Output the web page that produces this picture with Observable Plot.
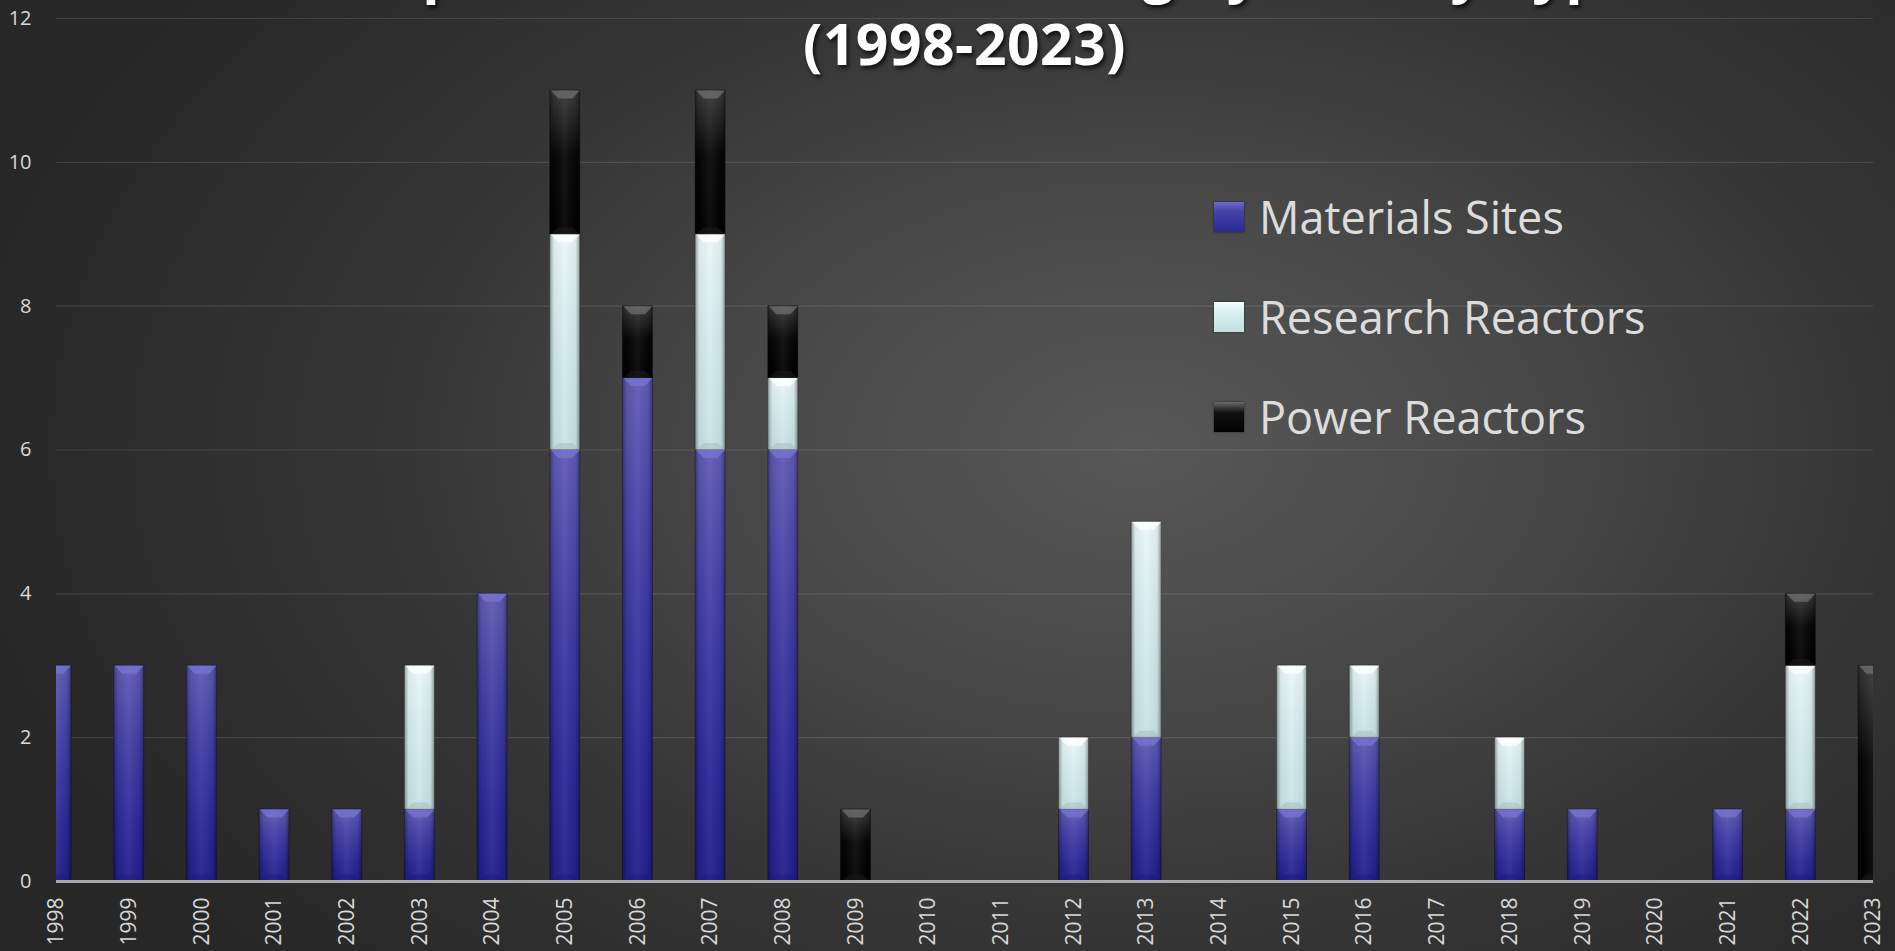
<!DOCTYPE html>
<html><head><meta charset="utf-8">
<script src="https://cdn.jsdelivr.net/npm/d3@7"></script>
<script src="https://cdn.jsdelivr.net/npm/@observablehq/plot@0.6"></script>
<style>
html,body{margin:0;padding:0;width:1895px;height:951px;overflow:hidden;background:#2a2a2a;}
#wrap{position:relative;width:1895px;height:951px;overflow:hidden;
  background: radial-gradient(ellipse 62% 80% at 60% 47%, #575757 0%, #4a4a4a 30%, #363636 62%, #272727 100%);}
#wrap svg{position:absolute;left:0;top:0;}
.tl{position:absolute;left:56px;width:1817px;text-align:center;font:700 57px/64px "Open Sans",sans-serif;letter-spacing:0.5px;color:#fff;text-shadow:2px 3px 4px rgba(0,0,0,.75);white-space:nowrap;}
.lrow{position:absolute;left:1214px;height:60px;display:flex;align-items:center;font:400 45px/60px "Open Sans",sans-serif;color:#dcdcdc;white-space:nowrap;}
.sw{width:30px;height:30px;margin-right:15px;box-shadow:0 0 2px rgba(0,0,0,.6);}
</style></head>
<body><div id="wrap"></div>
<script>
const years = [1998,1999,2000,2001,2002,2003,2004,2005,2006,2007,2008,2009,2010,2011,2012,2013,2014,2015,2016,2017,2018,2019,2020,2021,2022,2023];
const seriesNames = ["Materials Sites","Research Reactors","Power Reactors"];
const materialsSites   = [3,3,3,1,1,1,4,6,7,6,6,0,0,0,1,2,0,1,2,0,1,1,0,1,1,0];
const researchReactors = [0,0,0,0,0,2,0,3,0,3,1,0,0,0,1,3,0,2,1,0,1,0,0,0,2,0];
const powerReactors    = [0,0,0,0,0,0,0,2,1,2,1,1,0,0,0,0,0,0,0,0,0,0,0,0,1,3];
const yTicks = [0,2,4,6,8,10,12];
const titleLines = ["Completed HEU Downblending by Facility Type", "(1998-2023)"];

const seriesValues = [materialsSites, researchReactors, powerReactors];
const style = [
  {grad:"gMat", top:"#7774d2", bot:"#1c1980"},
  {grad:"gRes", top:"#ffffff", bot:"#a3babb"},
  {grad:"gPow", top:"#6c6c6c", bot:"#1e1e1e"}
];

// stacked rows
const rows = [];
years.forEach((yr, i) => {
  let acc = 0;
  seriesValues.forEach((vals, s) => {
    const v = vals[i];
    if (v > 0) { rows.push({year: yr, series: seriesNames[s], s, y1: acc, y2: acc + v}); acc += v; }
  });
});

const half = 0.206;
const topBevel = {draw(ctx){ ctx.moveTo(-14.5,0); ctx.lineTo(14.5,0); ctx.lineTo(7,8); ctx.lineTo(-7,8); ctx.closePath(); }};
const botBevel = {draw(ctx){ ctx.moveTo(-14.5,0); ctx.lineTo(14.5,0); ctx.lineTo(7,-7); ctx.lineTo(-7,-7); ctx.closePath(); }};

const marks = [
  Plot.gridY(yTicks, {stroke:"#ffffff", strokeOpacity:0.12, strokeWidth:1.2})
];
seriesNames.forEach((name, s) => {
  const data = rows.filter(d => d.s === s);
  marks.push(Plot.rect(data, {x1: d => d.year - half, x2: d => d.year + half, y1:"y1", y2:"y2",
    fill:`url(#${style[s].grad})`, stroke:"#000", strokeOpacity:0.35, strokeWidth:1, clip:true}));
  marks.push(Plot.rect(data, {x1: d => d.year - half, x2: d => d.year + half, y1:"y1", y2:"y2",
    fill:"url(#gEdge)", clip:true}));
  marks.push(Plot.dot(data, {x:"year", y:"y2", symbol: topBevel, fill: style[s].top, fillOpacity:0.8, stroke:"none", clip:true}));
  marks.push(Plot.dot(data, {x:"year", y:"y1", symbol: botBevel, fill: style[s].bot, fillOpacity:0.5, stroke:"none", clip:true}));
});
marks.push(Plot.ruleY([0], {stroke:"#a8a8a8", strokeWidth:3}));
marks.push(Plot.axisY(yTicks, {tickSize:0, tickPadding:25, fontSize:20, tickFormat: d => String(d), label:null}));
marks.push(Plot.axisX(years, {tickSize:0, tickPadding:16, tickRotate:-90, fontSize:21, tickFormat: d => String(d), label:null}));

const chart = Plot.plot({
  width:1895, height:951,
  marginLeft:56, marginRight:22, marginTop:18, marginBottom:70,
  x:{type:"linear", domain:[1998,2023]},
  y:{domain:[0,12]},
  style:{background:"transparent", color:"#d9d9d9", fontFamily:"'Open Sans', sans-serif", overflow:"visible"},
  marks
});

const defs = `
<defs>
 <linearGradient id="gMat" x1="0" y1="0" x2="0" y2="1">
  <stop offset="0" stop-color="#5e5bb3"/><stop offset="0.35" stop-color="#423fa6"/>
  <stop offset="0.75" stop-color="#2b2897"/><stop offset="1" stop-color="#221f8c"/></linearGradient>
 <linearGradient id="gRes" x1="0" y1="0" x2="0" y2="1">
  <stop offset="0" stop-color="#e9f7f7"/><stop offset="0.5" stop-color="#d5eced"/><stop offset="1" stop-color="#c9e3e4"/></linearGradient>
 <linearGradient id="gPow" x1="0" y1="0" x2="0" y2="1">
  <stop offset="0" stop-color="#3a3a3a"/><stop offset="0.45" stop-color="#070707"/><stop offset="1" stop-color="#000"/></linearGradient>
 <linearGradient id="gEdge" x1="0" y1="0" x2="1" y2="0">
  <stop offset="0" stop-color="#000" stop-opacity="0.35"/><stop offset="0.14" stop-color="#000" stop-opacity="0.05"/>
  <stop offset="0.5" stop-color="#fff" stop-opacity="0.06"/>
  <stop offset="0.86" stop-color="#000" stop-opacity="0.05"/><stop offset="1" stop-color="#000" stop-opacity="0.35"/></linearGradient>
</defs>`;
chart.insertAdjacentHTML("afterbegin", defs);

const wrap = document.getElementById("wrap");
wrap.appendChild(chart);

// title: first line sits mostly above the visible area, as in the reference
const titleTops = [-63, 11];
titleLines.forEach((t, i) => {
  const el = document.createElement("div");
  el.className = "tl";
  el.style.top = titleTops[i] + "px";
  el.textContent = t;
  wrap.appendChild(el);
});

const swatchCss = [
  "linear-gradient(#6f6cc8 0, #4643a8 30%, #2a2796 100%)",
  "linear-gradient(#f4ffff 0, #d6eeee 40%, #c4dfe0 100%)",
  "linear-gradient(#6a6a6a 0, #111 35%, #000 100%)"
];
seriesNames.forEach((name, i) => {
  const row = document.createElement("div");
  row.className = "lrow";
  row.style.top = (187 + 100*i) + "px";
  const sw = document.createElement("div");
  sw.className = "sw"; sw.style.background = swatchCss[i];
  const tx = document.createElement("span"); tx.textContent = name;
  row.appendChild(sw); row.appendChild(tx);
  wrap.appendChild(row);
});
</script>
</body></html>
